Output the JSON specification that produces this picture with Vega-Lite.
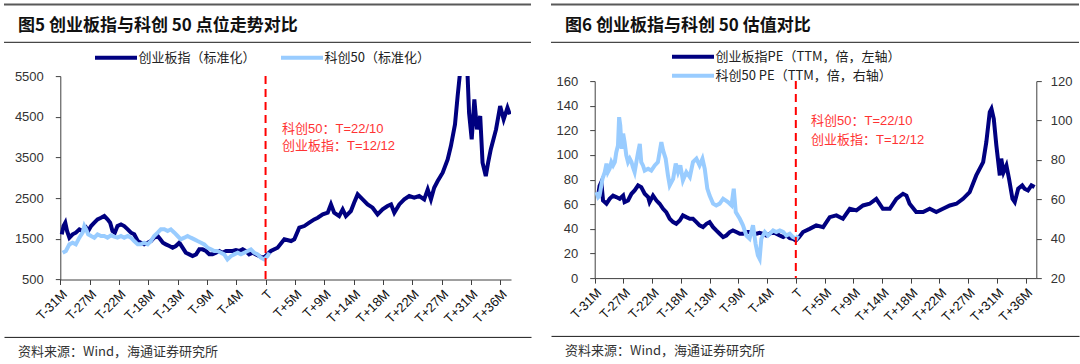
{
  "$schema": "https://vega.github.io/schema/vega-lite/v6.json",
  "background": "white",
  "padding": {"left": 3, "top": 3.5, "right": 0, "bottom": 0},
  "spacing": 18,
  "resolve": {"scale": {"color": "independent"}, "legend": {"color": "independent"}},
  "config": {
    "font": "Liberation Sans, Noto Sans CJK SC",
    "axis": {"grid": false, "domainColor": "#404040", "tickColor": "#404040", "labelColor": "#333333", "labelFont": "Liberation Sans, Noto Sans CJK SC", "labelFontSize": 13, "tickSize": 5, "title": null, "labelOverlap": false, "tickCount": 40},
    "legend": {"labelFont": "Noto Sans CJK SC", "labelFontSize": 13, "labelColor": "#222222", "labelLimit": 400, "symbolType": "M-2,0H14.8", "symbolSize": 25, "symbolStrokeWidth": 4, "labelOffset": 32, "title": null}
  },
  "datasets": {
    "cyb5": [
      {"t":0.05,"v":1610},{"t":0.11,"v":1814},{"t":0.17,"v":1896},{"t":0.23,"v":1692},{"t":0.31,"v":1528},{"t":0.42,"v":1610},{"t":0.53,"v":1651},{"t":0.65,"v":1733},{"t":0.76,"v":1692},{"t":0.88,"v":1774},{"t":0.95,"v":1692},{"t":1.05,"v":1814},{"t":1.16,"v":1896},{"t":1.27,"v":1978},{"t":1.39,"v":2019},{"t":1.5,"v":2060},{"t":1.61,"v":1978},{"t":1.7,"v":1896},{"t":1.78,"v":1692},{"t":1.86,"v":1651},{"t":1.95,"v":1814},{"t":2.07,"v":1855},{"t":2.18,"v":1814},{"t":2.3,"v":1733},{"t":2.41,"v":1651},{"t":2.52,"v":1610},{"t":2.64,"v":1446},{"t":2.75,"v":1405},{"t":2.86,"v":1364},{"t":2.98,"v":1405},{"t":3.09,"v":1446},{"t":3.2,"v":1528},{"t":3.32,"v":1569},{"t":3.41,"v":1487},{"t":3.5,"v":1405},{"t":3.6,"v":1364},{"t":3.72,"v":1323},{"t":3.83,"v":1282},{"t":3.94,"v":1323},{"t":4.06,"v":1405},{"t":4.17,"v":1282},{"t":4.28,"v":1159},{"t":4.4,"v":1118},{"t":4.51,"v":1077},{"t":4.63,"v":1118},{"t":4.74,"v":1241},{"t":4.85,"v":1241},{"t":4.97,"v":1200},{"t":5.08,"v":1118},{"t":5.19,"v":1118},{"t":5.31,"v":1159},{"t":5.42,"v":1200},{"t":5.53,"v":1159},{"t":5.65,"v":1200},{"t":5.76,"v":1200},{"t":5.88,"v":1200},{"t":5.99,"v":1225},{"t":6.1,"v":1200},{"t":6.22,"v":1241},{"t":6.33,"v":1200},{"t":6.44,"v":1118},{"t":6.56,"v":1159},{"t":6.67,"v":1118},{"t":6.78,"v":1077},{"t":6.9,"v":1036},{"t":6.98,"v":1060},
      {"t":7.18,"v":1200},{"t":7.41,"v":1282},{"t":7.64,"v":1487},{"t":7.87,"v":1446},{"t":7.98,"v":1487},{"t":8.15,"v":1774},{"t":8.32,"v":1814},{"t":8.49,"v":1896},{"t":8.66,"v":1978},{"t":8.78,"v":2019},{"t":8.95,"v":2101},{"t":9.12,"v":2142},{"t":9.23,"v":2347},{"t":9.34,"v":2142},{"t":9.51,"v":2060},{"t":9.63,"v":2224},{"t":9.74,"v":2060},{"t":9.91,"v":2183},{"t":10.02,"v":2388},{"t":10.14,"v":2593},{"t":10.31,"v":2470},{"t":10.48,"v":2347},{"t":10.65,"v":2265},{"t":10.82,"v":2101},{"t":10.99,"v":2224},{"t":11.16,"v":2306},{"t":11.28,"v":2347},{"t":11.39,"v":2142},{"t":11.56,"v":2347},{"t":11.73,"v":2470},{"t":11.9,"v":2552},{"t":12.07,"v":2511},{"t":12.24,"v":2552},{"t":12.41,"v":2470},{"t":12.53,"v":2715},{"t":12.64,"v":2470},{"t":12.75,"v":2756},{"t":12.87,"v":2920},{"t":13.04,"v":3125},{"t":13.21,"v":3453},{"t":13.32,"v":3780},{"t":13.46,"v":4312},{"t":13.55,"v":5009},{"t":13.62,"v":5500},{"t":13.7,"v":5900},{"t":13.84,"v":5900},{"t":13.89,"v":5500},{"t":13.94,"v":4599},{"t":14.03,"v":3944},{"t":14.12,"v":4927},{"t":14.21,"v":4190},{"t":14.32,"v":4517},{"t":14.4,"v":3371},{"t":14.51,"v":3043},{"t":14.59,"v":3371},{"t":14.68,"v":3698},{"t":14.86,"v":4190},{"t":15.0,"v":4763},{"t":15.12,"v":4435},{"t":15.25,"v":4722},{"t":15.33,"v":4558}
    ],
    "kc5": [
      {"t":0.08,"v":1159},{"t":0.19,"v":1200},{"t":0.31,"v":1364},{"t":0.42,"v":1405},{"t":0.53,"v":1364},{"t":0.65,"v":1528},{"t":0.76,"v":1651},{"t":0.82,"v":1814},{"t":0.88,"v":1733},{"t":0.95,"v":1610},{"t":1.05,"v":1569},{"t":1.16,"v":1528},{"t":1.27,"v":1610},{"t":1.39,"v":1569},{"t":1.5,"v":1569},{"t":1.61,"v":1528},{"t":1.73,"v":1585},{"t":1.84,"v":1553},{"t":1.95,"v":1528},{"t":2.07,"v":1569},{"t":2.18,"v":1528},{"t":2.3,"v":1569},{"t":2.41,"v":1528},{"t":2.52,"v":1446},{"t":2.64,"v":1364},{"t":2.75,"v":1364},{"t":2.86,"v":1405},{"t":2.98,"v":1364},{"t":3.09,"v":1446},{"t":3.2,"v":1569},{"t":3.32,"v":1651},{"t":3.43,"v":1733},{"t":3.55,"v":1733},{"t":3.66,"v":1692},{"t":3.77,"v":1733},{"t":3.89,"v":1651},{"t":4.0,"v":1569},{"t":4.11,"v":1487},{"t":4.23,"v":1528},{"t":4.34,"v":1569},{"t":4.45,"v":1528},{"t":4.57,"v":1487},{"t":4.68,"v":1446},{"t":4.8,"v":1405},{"t":4.91,"v":1364},{"t":5.02,"v":1282},{"t":5.14,"v":1241},{"t":5.25,"v":1200},{"t":5.36,"v":1200},{"t":5.48,"v":1159},{"t":5.59,"v":1118},{"t":5.7,"v":995},{"t":5.82,"v":1077},{"t":5.93,"v":1118},{"t":6.05,"v":1159},{"t":6.16,"v":1118},{"t":6.27,"v":1159},{"t":6.39,"v":1200},{"t":6.5,"v":1241},{"t":6.61,"v":1159},{"t":6.73,"v":1118},{"t":6.84,"v":1036},{"t":6.95,"v":995},{"t":7.07,"v":1077},{"t":7.13,"v":1159}
    ],
    "ann5": [
      {"t":7.56,"v":4205,"label":"科创50：T=22/10"},
      {"t":7.56,"v":3787,"label":"创业板指：T=12/12"}
    ],
    "cyb6": [
      {"t":0.12,"v":67},{"t":0.17,"v":75},{"t":0.23,"v":78},{"t":0.29,"v":63},{"t":0.41,"v":60.4},{"t":0.52,"v":64.4},{"t":0.64,"v":67},{"t":0.75,"v":65.8},{"t":0.87,"v":64.4},{"t":0.99,"v":67},{"t":1.04,"v":61.7},{"t":1.16,"v":63},{"t":1.28,"v":68.5},{"t":1.39,"v":71.2},{"t":1.51,"v":75.3},{"t":1.62,"v":73.9},{"t":1.74,"v":68.5},{"t":1.86,"v":65.8},{"t":1.91,"v":61.7},{"t":2.03,"v":67},{"t":2.15,"v":63},{"t":2.26,"v":60.4},{"t":2.38,"v":56.3},{"t":2.49,"v":53.6},{"t":2.61,"v":48.2},{"t":2.73,"v":45.5},{"t":2.84,"v":44.1},{"t":2.96,"v":46.8},{"t":3.07,"v":50.9},{"t":3.19,"v":49.5},{"t":3.31,"v":48.2},{"t":3.42,"v":48.2},{"t":3.54,"v":45.5},{"t":3.65,"v":42.8},{"t":3.77,"v":41.4},{"t":3.89,"v":44.1},{"t":4.0,"v":45.5},{"t":4.12,"v":41.4},{"t":4.23,"v":38.7},{"t":4.35,"v":36},{"t":4.47,"v":33.3},{"t":4.58,"v":34.6},{"t":4.7,"v":37.4},{"t":4.81,"v":38.7},{"t":4.93,"v":37.4},{"t":5.05,"v":36},{"t":5.16,"v":36},{"t":5.28,"v":37.4},{"t":5.39,"v":37.4},{"t":5.51,"v":36},{"t":5.63,"v":36},{"t":5.74,"v":36.8},{"t":5.86,"v":36},{"t":5.97,"v":34.6},{"t":6.09,"v":36},{"t":6.21,"v":37.4},{"t":6.32,"v":36},{"t":6.44,"v":34.6},{"t":6.56,"v":33.3},{"t":6.67,"v":34.6},{"t":6.79,"v":32.5},{"t":6.9,"v":31.9},{"t":7.0,"v":30.6},
      {"t":7.12,"v":33.5},{"t":7.25,"v":37.4},{"t":7.48,"v":40},{"t":7.71,"v":42.8},{"t":7.95,"v":41.4},{"t":8.18,"v":49.5},{"t":8.41,"v":50.9},{"t":8.64,"v":48.2},{"t":8.88,"v":56.3},{"t":9.11,"v":55},{"t":9.34,"v":59},{"t":9.57,"v":60.4},{"t":9.8,"v":64.4},{"t":10.03,"v":56.3},{"t":10.27,"v":56.3},{"t":10.5,"v":64.4},{"t":10.73,"v":68.5},{"t":10.85,"v":67},{"t":10.96,"v":60.4},{"t":11.19,"v":53.6},{"t":11.43,"v":53.6},{"t":11.66,"v":56.3},{"t":11.89,"v":53.6},{"t":12.12,"v":56.3},{"t":12.36,"v":59},{"t":12.59,"v":60.4},{"t":12.82,"v":64.4},{"t":13.05,"v":69.8},{"t":13.28,"v":83.4},{"t":13.52,"v":94.2},{"t":13.63,"v":110.4},{"t":13.75,"v":134.8},{"t":13.81,"v":137.5},{"t":13.89,"v":129.4},{"t":13.98,"v":107.7},{"t":14.1,"v":83.4},{"t":14.15,"v":97},{"t":14.23,"v":86},{"t":14.33,"v":91.5},{"t":14.42,"v":80.7},{"t":14.54,"v":64.4},{"t":14.62,"v":61.7},{"t":14.74,"v":72.6},{"t":14.88,"v":75.3},{"t":14.96,"v":72.6},{"t":15.08,"v":71.2},{"t":15.2,"v":75.3},{"t":15.31,"v":73.9}
    ],
    "kc6": [
      {"t":0.06,"v":63.6},{"t":0.12,"v":61.1},{"t":0.17,"v":61.9},{"t":0.27,"v":70.4},{"t":0.35,"v":73.8},{"t":0.41,"v":78.1},{"t":0.46,"v":73.8},{"t":0.52,"v":75.5},{"t":0.58,"v":78.9},{"t":0.64,"v":77.2},{"t":0.7,"v":78.9},{"t":0.75,"v":83.8},{"t":0.81,"v":87.3},{"t":0.85,"v":101.7},{"t":0.89,"v":97.5},{"t":0.94,"v":85.6},{"t":0.99,"v":93.3},{"t":1.04,"v":89.1},{"t":1.1,"v":82.3},{"t":1.16,"v":78.9},{"t":1.22,"v":80.6},{"t":1.28,"v":78.9},{"t":1.33,"v":76.3},{"t":1.39,"v":73.8},{"t":1.45,"v":78.9},{"t":1.51,"v":83.8},{"t":1.57,"v":88.1},{"t":1.62,"v":78.9},{"t":1.68,"v":77.2},{"t":1.74,"v":74.6},{"t":1.86,"v":75.5},{"t":1.97,"v":74.6},{"t":2.09,"v":77.2},{"t":2.2,"v":78.9},{"t":2.32,"v":89},{"t":2.38,"v":84.8},{"t":2.47,"v":80.6},{"t":2.55,"v":72.1},{"t":2.61,"v":67.1},{"t":2.73,"v":70.4},{"t":2.82,"v":78.1},{"t":2.9,"v":73.8},{"t":2.98,"v":77.2},{"t":3.07,"v":69.6},{"t":3.19,"v":73.8},{"t":3.31,"v":71.3},{"t":3.42,"v":78.9},{"t":3.54,"v":80.6},{"t":3.65,"v":77.2},{"t":3.75,"v":80.6},{"t":3.83,"v":75.5},{"t":3.92,"v":65.4},{"t":4.0,"v":61.9},{"t":4.12,"v":57.8},{"t":4.23,"v":56.9},{"t":4.35,"v":57.8},{"t":4.47,"v":60.3},{"t":4.64,"v":58.6},{"t":4.76,"v":56.9},{"t":4.84,"v":65.4},{"t":4.91,"v":53.5},{"t":5.05,"v":50.1},{"t":5.16,"v":46.8},{"t":5.28,"v":41.6},{"t":5.39,"v":40},{"t":5.51,"v":46.8},{"t":5.6,"v":37.4},{"t":5.68,"v":31.5},{"t":5.74,"v":29.8},{"t":5.8,"v":40},{"t":5.92,"v":43.4},{"t":6.03,"v":41.6},{"t":6.21,"v":44.2},{"t":6.32,"v":43.4},{"t":6.44,"v":44.2},{"t":6.56,"v":43.4},{"t":6.67,"v":41.6},{"t":6.79,"v":42.5},{"t":6.9,"v":40.8},{"t":7.02,"v":40},{"t":7.08,"v":41.6}
    ],
    "ann6": [
      {"t":7.53,"v":127.5,"label":"科创50：T=22/10"},
      {"t":7.53,"v":112,"label":"创业板指：T=12/12"}
    ],
    "tline": [{"t":7}],
    "blank": [{"k":1}]
  },
  "hconcat": [
    {
      "spacing": 6.8,
      "resolve": {"scale": {"color": "independent"}, "legend": {"color": "independent"}},
      "vconcat": [
        {"width": 527, "height": 0.01, "view": {"stroke": null},
         "title": {"text": "图5  创业板指与科创 50 点位走势对比", "orient": "bottom", "anchor": "start", "frame": "group", "offset": 12, "dx": 14, "fontSize": 17, "fontWeight": "bold", "font": "Noto Sans CJK SC", "color": "#111111"},
         "data": {"name": "blank"}, "mark": {"type": "rule", "color": "#595959", "strokeWidth": 2},
         "encoding": {"x": {"datum": 0, "type": "quantitative", "scale": {"domain": [0, 2]}, "axis": null}, "x2": {"datum": 2}}},
        {"width": 527, "height": 0.01, "view": {"stroke": null},
         "data": {"name": "blank"}, "mark": {"type": "rule", "color": "#1a1a1a", "strokeWidth": 1},
         "encoding": {"x": {"datum": 0, "type": "quantitative", "scale": {"domain": [0, 2]}, "axis": null}, "x2": {"datum": 2}}},
        {
          "width": 507, "height": 203.4,
          "view": {"stroke": null},
          "layer": [
            {"data": {"name": "cyb5"}, "mark": {"type": "line", "strokeWidth": 4, "clip": true},
             "encoding": {
               "x": {"field": "t", "type": "quantitative", "scale": {"domain": [0, 15.37], "range": [56.3, 507], "nice": false, "zero": false},
                     "axis": {"values": [0,1,2,3,4,5,6,7,8,9,10,11,12,13,14,15], "tickCount": 40, "labelExpr": "['T-31M','T-27M','T-22M','T-18M','T-13M','T-9M','T-4M','T','T+5M','T+9M','T+14M','T+18M','T+22M','T+27M','T+31M','T+36M'][datum.value]", "labelAngle": -45, "labelAlign": "right", "labelBaseline": "top", "labelFontSize": 13, "labelColor": "#111111", "labelOverlap": false, "labelFlush": false, "labelPadding": 3, "minExtent": 50}},
               "y": {"field": "v", "type": "quantitative", "scale": {"domain": [500, 5500], "nice": false, "zero": false},
                     "axis": {"values": [500,1500,2500,3500,4500,5500], "format": "d", "labelPadding": 12, "offset": -56.3}},
               "color": {"datum": "创业板指（标准化）", "type": "nominal",
                         "scale": {"domain": ["创业板指（标准化）", "科创50（标准化）"], "range": ["#000080", "#99CCFF"]},
                         "legend": {"orient": "none", "legendX": 89.5, "legendY": -25.2, "direction": "horizontal", "columnPadding": 16}}
             }},
            {"data": {"name": "kc5"}, "mark": {"type": "line", "strokeWidth": 4, "clip": true},
             "encoding": {
               "x": {"field": "t", "type": "quantitative"},
               "y": {"field": "v", "type": "quantitative"},
               "color": {"datum": "科创50（标准化）", "type": "nominal"}
             }},
            {"data": {"name": "tline"}, "mark": {"type": "rule", "color": "#FF0000", "strokeDash": [8, 5], "strokeWidth": 2},
             "encoding": {"x": {"field": "t", "type": "quantitative"}}},
            {"data": {"name": "ann5"}, "mark": {"type": "text", "align": "left", "baseline": "middle", "color": "#FF3333", "fontSize": 13},
             "encoding": {"x": {"field": "t", "type": "quantitative"}, "y": {"field": "v", "type": "quantitative"}, "text": {"field": "label"}}}
          ]
        },
        {"width": 527, "height": 0.01, "view": {"stroke": null},
         "title": {"text": "资料来源：Wind，海通证券研究所", "orient": "bottom", "anchor": "start", "frame": "group", "offset": 9.5, "dx": 14, "fontSize": 13, "fontWeight": "normal", "font": "Noto Sans CJK SC", "color": "#333333"},
         "data": {"name": "blank"}, "mark": {"type": "text", "fontSize": 0},
         "encoding": {"x": {"field": "k", "type": "quantitative", "scale": {"domain": [0, 2]}, "axis": {"orient": "top", "labels": false, "ticks": false, "domainColor": "#1a1a1a", "domainWidth": 1}}, "text": {"value": ""}}}
      ]
    },
    {
      "spacing": 6.8,
      "resolve": {"scale": {"color": "independent"}, "legend": {"color": "independent"}},
      "vconcat": [
        {"width": 528, "height": 0.01, "view": {"stroke": null},
         "title": {"text": "图6  创业板指与科创 50 估值对比", "orient": "bottom", "anchor": "start", "frame": "group", "offset": 12, "dx": 14, "fontSize": 17, "fontWeight": "bold", "font": "Noto Sans CJK SC", "color": "#111111"},
         "data": {"name": "blank"}, "mark": {"type": "rule", "color": "#595959", "strokeWidth": 2},
         "encoding": {"x": {"datum": 0, "type": "quantitative", "scale": {"domain": [0, 2]}, "axis": null}, "x2": {"datum": 2}}},
        {"width": 528, "height": 0.01, "view": {"stroke": null},
         "data": {"name": "blank"}, "mark": {"type": "rule", "color": "#1a1a1a", "strokeWidth": 1},
         "encoding": {"x": {"datum": 0, "type": "quantitative", "scale": {"domain": [0, 2]}, "axis": null}, "x2": {"datum": 2}}},
        {
          "width": 485.3, "height": 197,
          "view": {"stroke": null},
          "resolve": {"scale": {"y": "independent"}},
          "layer": [
            {"data": {"name": "cyb6"}, "mark": {"type": "line", "strokeWidth": 4, "clip": true},
             "encoding": {
               "x": {"field": "t", "type": "quantitative", "scale": {"domain": [0, 15.37], "range": [43.7, 485.3], "nice": false, "zero": false},
                     "axis": {"values": [0,1,2,3,4,5,6,7,8,9,10,11,12,13,14,15], "tickCount": 40, "labelExpr": "['T-31M','T-27M','T-22M','T-18M','T-13M','T-9M','T-4M','T','T+5M','T+9M','T+14M','T+18M','T+22M','T+27M','T+31M','T+36M'][datum.value]", "labelAngle": -45, "labelAlign": "right", "labelBaseline": "top", "labelFontSize": 13, "labelColor": "#111111", "labelOverlap": false, "labelFlush": false, "labelPadding": 3, "minExtent": 50.7}},
               "y": {"field": "v", "type": "quantitative", "scale": {"domain": [0, 160], "nice": false, "zero": false},
                     "axis": {"orient": "left", "values": [0,20,40,60,80,100,120,140,160], "tickCount": 40, "labelPadding": 12, "offset": -43.7}},
               "color": {"datum": "创业板指PE（TTM，倍，左轴）", "type": "nominal",
                         "scale": {"domain": ["创业板指PE（TTM，倍，左轴）", "科创50 PE（TTM，倍，右轴）"], "range": ["#000080", "#99CCFF"]},
                         "legend": {"orient": "none", "legendX": 119.5, "legendY": -30.9, "direction": "vertical", "rowPadding": 2}}
             }},
            {"data": {"name": "kc6"}, "mark": {"type": "line", "strokeWidth": 4, "clip": true},
             "encoding": {
               "x": {"field": "t", "type": "quantitative"},
               "y": {"field": "v", "type": "quantitative", "scale": {"domain": [20, 120], "nice": false, "zero": false},
                     "axis": {"orient": "right", "values": [20,40,60,80,100,120], "tickCount": 40, "labelPadding": 9}},
               "color": {"datum": "科创50 PE（TTM，倍，右轴）", "type": "nominal"}
             }},
            {"layer": [
              {"data": {"name": "tline"}, "mark": {"type": "rule", "color": "#FF0000", "strokeDash": [8, 5], "strokeWidth": 2},
               "encoding": {"x": {"field": "t", "type": "quantitative"}}},
              {"data": {"name": "ann6"}, "mark": {"type": "text", "align": "left", "baseline": "middle", "color": "#FF3333", "fontSize": 13},
               "encoding": {"x": {"field": "t", "type": "quantitative"}, "y": {"field": "v", "type": "quantitative", "scale": {"domain": [0, 160], "nice": false, "zero": false}, "axis": null}, "text": {"field": "label"}}}
            ]}
          ]
        },
        {"width": 528, "height": 0.01, "view": {"stroke": null},
         "title": {"text": "资料来源：Wind，海通证券研究所", "orient": "bottom", "anchor": "start", "frame": "group", "offset": 9.5, "dx": 14, "fontSize": 13, "fontWeight": "normal", "font": "Noto Sans CJK SC", "color": "#333333"},
         "data": {"name": "blank"}, "mark": {"type": "text", "fontSize": 0},
         "encoding": {"x": {"field": "k", "type": "quantitative", "scale": {"domain": [0, 2]}, "axis": {"orient": "top", "labels": false, "ticks": false, "domainColor": "#1a1a1a", "domainWidth": 1}}, "text": {"value": ""}}}
      ]
    }
  ]
}
